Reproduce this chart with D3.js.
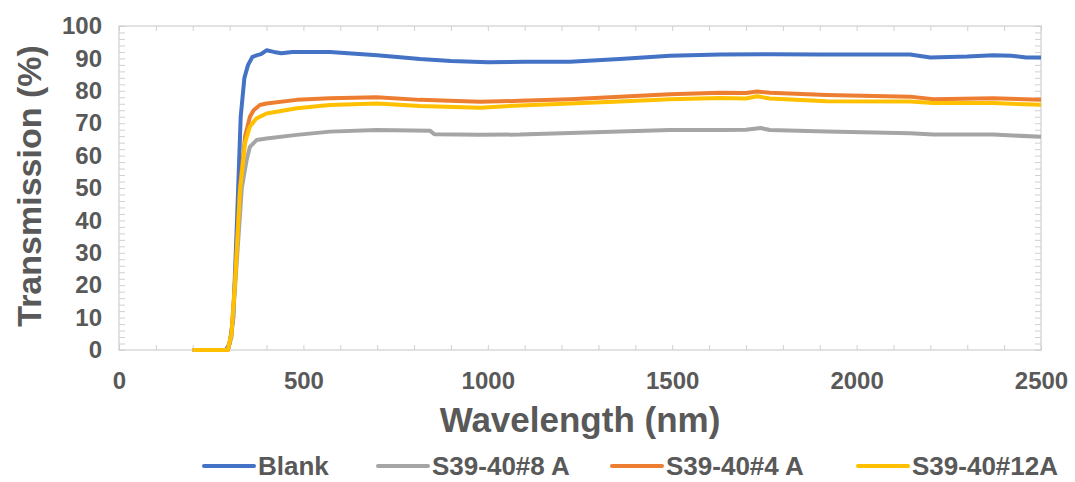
<!DOCTYPE html>
<html>
<head>
<meta charset="utf-8">
<script src="https://cdn.jsdelivr.net/npm/d3@7"></script>
<style>
  body { margin: 0; background: #fff; }
  text { font-family: 'Liberation Sans', Arial, sans-serif; font-weight: bold; fill: #595959; }
</style>
</head>
<body>
<div id="chart"></div>
<script>
const w = 1075;
const h = 482;

// data: [wavelength nm, transmission %]
const blank = [[200,0],[290,0],[300,2],[310,10],[320,40],[330,72],[340,84],[350,88],[362,90.5],[375,91],[385,91.3],[400,92.5],[420,92],[440,91.6],[470,92],[572,92],[700,91],[816,89.8],[900,89.2],[1000,88.8],[1100,89],[1223,89],[1358,89.8],[1494,90.8],[1630,91.2],[1765,91.3],[1900,91.2],[2145,91.2],[2200,90.3],[2300,90.6],[2370,91],[2420,90.8],[2460,90.3],[2500,90.3]];
const s8A = [[200,0],[295,0],[305,4],[315,20],[333,50],[346,58.6],[355,62.7],[373,64.8],[400,65.3],[482,66.4],[572,67.4],[699,67.9],[843,67.7],[855,66.6],[979,66.4],[1087,66.5],[1223,67],[1358,67.4],[1494,67.9],[1630,67.9],[1700,68],[1740,68.5],[1765,67.9],[1919,67.4],[2145,66.9],[2208,66.5],[2370,66.5],[2500,65.8]];
const s4A = [[200,0],[295,0],[305,5],[315,22],[328,50],[342,66],[355,72],[365,74],[382,75.6],[400,76.1],[482,77.2],[572,77.7],[699,78],[816,77.2],[979,76.6],[1087,76.9],[1223,77.4],[1358,78.2],[1494,78.9],[1630,79.4],[1700,79.3],[1730,79.8],[1765,79.4],[1919,78.7],[2145,78.2],[2208,77.4],[2370,77.7],[2500,77.2]];
const s12A = [[200,0],[295,0],[305,5],[315,21],[328,49],[342,64],[355,69],[373,71.5],[400,73],[482,74.6],[572,75.6],[699,76.1],[816,75.3],[979,74.8],[1087,75.5],[1223,76.1],[1358,76.7],[1494,77.4],[1630,77.8],[1700,77.6],[1730,78.3],[1765,77.6],[1919,76.8],[2145,76.7],[2208,76.2],[2370,76.2],[2500,75.7]];

const seriesNames = ['Blank', 'S39-40#8 A', 'S39-40#4 A', 'S39-40#12A'];
const seriesData = [blank, s8A, s4A, s12A];
const colors = ['#4472C4', '#A5A5A5', '#ED7D31', '#FFC000'];

const xTicks = [0, 500, 1000, 1500, 2000, 2500];
const yTicks = [0, 10, 20, 30, 40, 50, 60, 70, 80, 90, 100];

// plot area
const pLeft = 119, pRight = 1041, pTop = 26, pBottom = 350;

const xScale = d3.scaleLinear().domain([0, 2500]).range([pLeft, pRight]);
const yScale = d3.scaleLinear().domain([0, 100]).range([pBottom, pTop]);

const svg = d3.select('#chart')
  .append('svg')
  .attr('width', w)
  .attr('height', h);

//frame
svg.append('rect')
  .attr('x', pLeft)
  .attr('y', pTop)
  .attr('width', pRight - pLeft)
  .attr('height', pBottom - pTop)
  .attr('fill', 'none')
  .attr('stroke', '#d9d9d9')
  .attr('stroke-width', 1.5);

//minor ticks, all pointing inward
const tickColor = '#d0d0d0';
const xMinor = d3.range(0, 2501, 100);
const yMinor = d3.range(0, 101, 2);

svg.append('g')
  .attr('transform', 'translate(0,' + pBottom + ')')
  .call(d3.axisTop(xScale).tickValues(xMinor).tickSize(5).tickFormat(''))
  .call(g => g.select('.domain').remove())
  .call(g => g.selectAll('line').attr('stroke', tickColor));

svg.append('g')
  .attr('transform', 'translate(0,' + pTop + ')')
  .call(d3.axisBottom(xScale).tickValues(xMinor).tickSize(5).tickFormat(''))
  .call(g => g.select('.domain').remove())
  .call(g => g.selectAll('line').attr('stroke', tickColor));

svg.append('g')
  .attr('transform', 'translate(' + pLeft + ',0)')
  .call(d3.axisRight(yScale).tickValues(yMinor).tickSize(6).tickFormat(''))
  .call(g => g.select('.domain').remove())
  .call(g => g.selectAll('line').attr('stroke', tickColor));

svg.append('g')
  .attr('transform', 'translate(' + pRight + ',0)')
  .call(d3.axisLeft(yScale).tickValues(yMinor).tickSize(6).tickFormat(''))
  .call(g => g.select('.domain').remove())
  .call(g => g.selectAll('line').attr('stroke', tickColor));

//tick labels
svg.append('g')
  .attr('transform', 'translate(0,' + pBottom + ')')
  .call(d3.axisBottom(xScale).tickValues(xTicks).tickSize(0).tickPadding(22).tickFormat(d3.format('d')))
  .call(g => g.select('.domain').remove())
  .call(g => g.selectAll('text')
    .attr('fill', '#595959')
    .style('font-family', "'Liberation Sans', Arial, sans-serif")
    .style('font-weight', 'bold')
    .style('font-size', '24px'));

svg.append('g')
  .attr('transform', 'translate(' + pLeft + ',0)')
  .call(d3.axisLeft(yScale).tickValues(yTicks).tickSize(0).tickPadding(17))
  .call(g => g.select('.domain').remove())
  .call(g => g.selectAll('text')
    .attr('fill', '#595959')
    .style('font-family', "'Liberation Sans', Arial, sans-serif")
    .style('font-weight', 'bold')
    .style('font-size', '24px'));

//lines
const line = d3.line()
  .x((d) => xScale(d[0]))
  .y((d) => yScale(d[1]));

seriesData.forEach(function (data, i) {
  svg.append('path')
    .datum(data)
    .attr('fill', 'none')
    .attr('stroke', colors[i])
    .attr('stroke-width', 4)
    .attr('stroke-linejoin', 'round')
    .attr('d', line);
});

//x-axis label
svg.append('text')
  .attr('x', (pLeft + pRight) / 2)
  .attr('y', 432)
  .attr('text-anchor', 'middle')
  .style('font-size', '35px')
  .text('Wavelength (nm)');

//y-axis label
svg.append('text')
  .attr('text-anchor', 'middle')
  .attr('transform', 'translate(41,' + 186 + ')rotate(-90)')
  .style('font-size', '34px')
  .text('Transmission (%)');

//legend
const legendX = [204, 378, 612, 858];
seriesNames.forEach(function (name, i) {
  svg.append('line')
    .attr('x1', legendX[i])
    .attr('x2', legendX[i] + 50)
    .attr('y1', 466)
    .attr('y2', 466)
    .attr('stroke', colors[i])
    .attr('stroke-width', 4)
    .attr('stroke-linecap', 'round');
  svg.append('text')
    .attr('x', legendX[i] + 54)
    .attr('y', 475)
    .style('font-size', '26px')
    .text(name);
});
</script>
</body>
</html>
